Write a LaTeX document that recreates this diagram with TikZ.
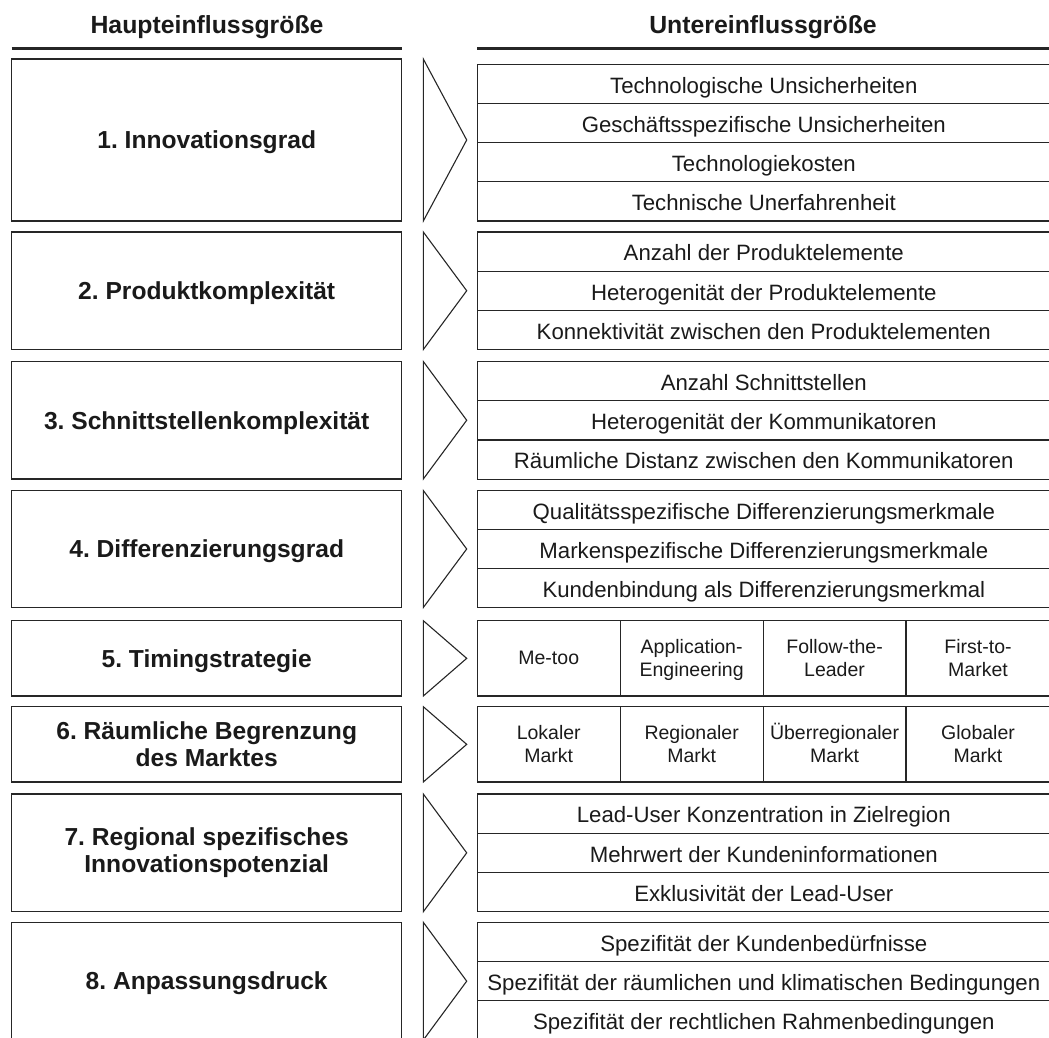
\documentclass[tikz,border=0pt]{standalone}
\usepackage{fontspec}
\setmainfont{Liberation Sans}
\frenchspacing
\definecolor{linec}{HTML}{262626}
\definecolor{textc}{HTML}{1A1A1A}
\newcommand\cst{\rule[-4.6pt]{0pt}{22.4pt}}
\begin{document}
\begin{tikzpicture}[x=1pt,y=-1pt,
  every node/.style={inner sep=0pt, outer sep=0pt, text=textc},
  hdr/.style={font=\bfseries\fontsize{24.8}{28}\selectfont},
  hline/.style={draw=linec, line width=2.6pt},
  lbox/.style={draw=linec, line width=1.2pt, minimum width=390pt, minimum height=#1, anchor=north west, align=center, font=\bfseries\fontsize{24.6}{27}\selectfont},
  one/.style={text height=17.6pt, text depth=0pt},
  rrow/.style={draw=linec, line width=1.2pt, minimum width=573pt, minimum height=#1, anchor=north west, text height=18.5pt, text depth=0pt, font=\fontsize{22.2}{26}\selectfont},
  rrow/.default=39.2pt,
  rcol/.style={draw=linec, line width=1.2pt, minimum width=142.9pt, minimum height=75.3pt, anchor=north west, align=center, font=\fontsize{19.5}{22.4}\selectfont},
  chev/.style={draw=linec, line width=1.1pt, line join=miter}
]
\useasboundingbox (0,0) rectangle (1049,1038);

% headers
\node[hdr] (h1) at (207,27) {Haupteinflussgröße};
\node[hdr] (h2) at (763,27) {Untereinflussgröße};
\coordinate (hl1a) at (11.7,48.3); \coordinate (hl1b) at (401.7,48.3);
\coordinate (hl2a) at (477.3,48.3); \coordinate (hl2b) at (1050,48.3);
\draw[hline] (hl1a) -- (hl1b);
\draw[hline] (hl2a) -- (hl2b);

% left boxes
\node[lbox=162pt, one]   (L1) at (11.7,59)    {1. Innovationsgrad};
\node[lbox=117.5pt, one] (L2) at (11.7,232)   {2. Produktkomplexität};
\node[lbox=117.5pt, one] (L3) at (11.7,361.5) {3. Schnittstellenkomplexität};
\node[lbox=117pt, one]   (L4) at (11.7,490.5) {4. Differenzierungsgrad};
\node[lbox=75.3pt, one]  (L5) at (11.7,620.7) {5. Timingstrategie};
\node[lbox=75.3pt]  (L6) at (11.7,706.7) {6. Räumliche Begrenzung\\des Marktes};
\node[lbox=117.7pt] (L7) at (11.7,794)   {7. Regional spezifisches\\Innovationspotenzial};
\node[lbox=117.7pt, one] (L8) at (11.7,922.3) {8. Anpassungsdruck};

% chevrons
\foreach \i in {1,...,8}{
  \draw[chev] ([xshift=21.6pt]L\i.north east) -- ([xshift=65pt]L\i.east) -- ([xshift=21.6pt]L\i.south east) -- cycle;
}

% block 1
\node[rrow=39.1pt] (R1a) at (477.3,64.5) {Technologische Unsicherheiten};
\node[rrow=39.1pt] (R1b) at (R1a.south west) {Geschäftsspezifische Unsicherheiten};
\node[rrow=39.1pt] (R1c) at (R1b.south west) {Technologiekosten};
\node[rrow=39.1pt] (R1d) at (R1c.south west) {Technische Unerfahrenheit};

% block 2
\node[rrow] (R2a) at (477.3,232) {Anzahl der Produktelemente};
\node[rrow] (R2b) at (R2a.south west) {Heterogenität der Produktelemente};
\node[rrow] (R2c) at (R2b.south west) {Konnektivität zwischen den Produktelementen};

% block 3
\node[rrow] (R3a) at (477.3,361.5) {Anzahl Schnittstellen};
\node[rrow] (R3b) at (R3a.south west) {Heterogenität der Kommunikatoren};
\node[rrow] (R3c) at (R3b.south west) {Räumliche Distanz zwischen den Kommunikatoren};

% block 4
\node[rrow=39pt] (R4a) at (477.3,490.5) {Qualitätsspezifische Differenzierungsmerkmale};
\node[rrow=39pt] (R4b) at (R4a.south west) {Markenspezifische Differenzierungsmerkmale};
\node[rrow=39pt] (R4c) at (R4b.south west) {Kundenbindung als Differenzierungsmerkmal};

% block 5
\node[rcol] (R5a) at (477.3,620.7) {\cst Me-too};
\node[rcol] (R5b) at (R5a.north east) {\cst Application-\\\cst Engineering};
\node[rcol] (R5c) at (R5b.north east) {\cst Follow-the-\\\cst Leader};
\node[rcol, minimum width=144pt] (R5d) at (R5c.north east) {\cst First-to-\\\cst Market};

% block 6
\node[rcol] (R6a) at (477.3,706.7) {\cst Lokaler\\\cst Markt};
\node[rcol] (R6b) at (R6a.north east) {\cst Regionaler\\\cst Markt};
\node[rcol] (R6c) at (R6b.north east) {\cst Überregionaler\\\cst Markt};
\node[rcol, minimum width=144pt] (R6d) at (R6c.north east) {\cst Globaler\\\cst Markt};

% block 7
\node[rrow] (R7a) at (477.3,794) {Lead-User Konzentration in Zielregion};
\node[rrow] (R7b) at (R7a.south west) {Mehrwert der Kundeninformationen};
\node[rrow] (R7c) at (R7b.south west) {Exklusivität der Lead-User};

% block 8
\node[rrow] (R8a) at (477.3,922.3) {Spezifität der Kundenbedürfnisse};
\node[rrow] (R8b) at (R8a.south west) {Spezifität der räumlichen und klimatischen Bedingungen};
\node[rrow] (R8c) at (R8b.south west) {Spezifität der rechtlichen Rahmenbedingungen};
\end{tikzpicture}
\end{document}
